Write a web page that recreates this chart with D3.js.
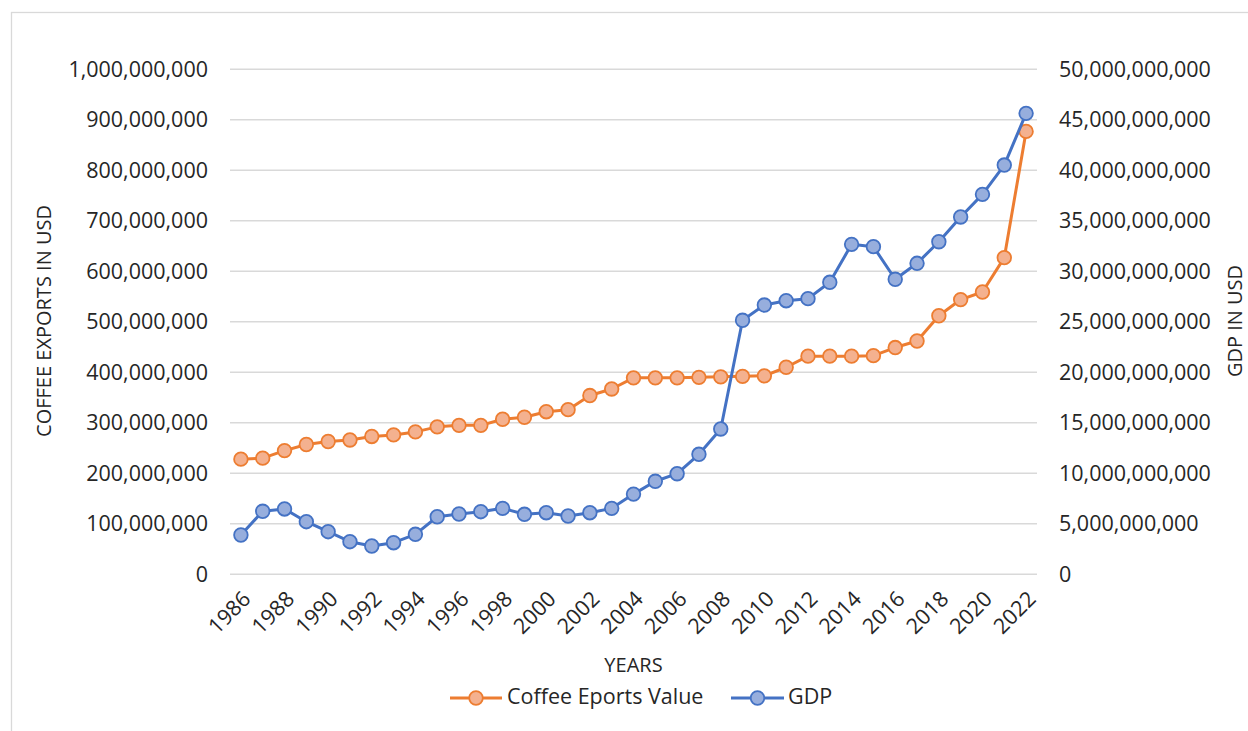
<!DOCTYPE html>
<html>
<head>
<meta charset="utf-8">
<script src="https://cdn.jsdelivr.net/npm/d3@7"></script>
<style>
  html, body { margin: 0; padding: 0; background: #ffffff; }
  svg { display: block; font-family: "Open Sans", "Liberation Sans", sans-serif; }
</style>
</head>
<body>
<svg id="chart" width="1248" height="731"></svg>
<script>
// Years on the category axis
const years = d3.range(1986, 2023);

// Coffee export value (USD), left axis
const coffeeExports = [
  228e6, 230e6, 245e6, 257e6, 263e6, 266e6, 273e6, 276e6, 282e6, 292e6,
  295e6, 295e6, 307e6, 311e6, 322e6, 326e6, 354e6, 367e6, 389e6, 389e6,
  389e6, 390e6, 391e6, 392e6, 393e6, 410e6, 432e6, 432e6, 432e6, 433e6,
  449e6, 462e6, 512e6, 544e6, 559e6, 627e6, 877e6
];

// GDP (USD), right axis
const gdp = [
  3.89e9, 6.24e9, 6.47e9, 5.21e9, 4.22e9, 3.23e9, 2.80e9, 3.13e9, 3.96e9, 5.70e9,
  5.97e9, 6.20e9, 6.53e9, 5.94e9, 6.10e9, 5.77e9, 6.10e9, 6.53e9, 7.94e9, 9.21e9,
  9.96e9, 11.88e9, 14.39e9, 25.15e9, 26.66e9, 27.09e9, 27.29e9, 28.91e9, 32.67e9, 32.44e9,
  29.21e9, 30.79e9, 32.93e9, 35.38e9, 37.62e9, 40.52e9, 45.64e9
];

// Axis tick values
const leftTicks = d3.range(0, 1e9 + 1, 1e8);
const rightTicks = d3.range(0, 5e10 + 1, 5e9);
const yearLabels = years.filter(y => y % 2 === 0);

const seriesNames = ["Coffee Eports Value", "GDP"];
const lineColors = ["#ED7D31", "#4472C4"];
const markerFills = ["#F4B18F", "#97AEDD"];

const svg = d3.select("#chart");

// Outer chart frame
svg.append("rect")
  .attr("x", 11.5).attr("y", 12.5)
  .attr("width", 1260).attr("height", 740)
  .attr("fill", "#ffffff")
  .attr("stroke", "#D9D9D9").attr("stroke-width", 1.3);

const plot = { left: 230, right: 1037, top: 69.3, bottom: 574.3 };

const x = d3.scaleBand().domain(years).range([plot.left, plot.right]);
const cx = d => x(d) + x.bandwidth() / 2;
const yL = d3.scaleLinear().domain([0, 1e9]).range([plot.bottom, plot.top]);
const yR = d3.scaleLinear().domain([0, 5e10]).range([plot.bottom, plot.top]);
const fmt = d3.format(",");

const tickFont = 21.5;
const titleFont = 20;

// Horizontal gridlines
svg.append("g")
  .selectAll("line")
  .data(leftTicks)
  .join("line")
  .attr("x1", plot.left).attr("x2", plot.right)
  .attr("y1", d => yL(d)).attr("y2", d => yL(d))
  .attr("stroke", "#D9D9D9").attr("stroke-width", 1.5);

// Left axis
const leftAxis = svg.append("g")
  .attr("transform", `translate(${plot.left - 22},0)`)
  .call(d3.axisLeft(yL).tickValues(leftTicks).tickFormat(fmt).tickSize(0).tickPadding(0));
leftAxis.select(".domain").remove();
leftAxis.selectAll("text")
  .attr("font-size", tickFont).attr("fill", "#262626")
  .attr("font-family", "'Open Sans', sans-serif");

// Right axis
const rightAxis = svg.append("g")
  .attr("transform", `translate(${plot.right + 22},0)`)
  .call(d3.axisRight(yR).tickValues(rightTicks).tickFormat(fmt).tickSize(0).tickPadding(0));
rightAxis.select(".domain").remove();
rightAxis.selectAll("text")
  .attr("font-size", tickFont).attr("fill", "#262626")
  .attr("font-family", "'Open Sans', sans-serif");

// Bottom category axis with rotated year labels
const bottomAxis = svg.append("g")
  .attr("transform", `translate(0,${plot.bottom})`)
  .call(d3.axisBottom(x).tickValues(yearLabels).tickSize(0).tickPadding(0));
bottomAxis.select(".domain").remove();
bottomAxis.selectAll("text")
  .attr("font-size", tickFont).attr("fill", "#262626")
  .attr("font-family", "'Open Sans', sans-serif")
  .attr("text-anchor", "end")
  .attr("dy", null).attr("y", 0)
  .attr("transform", "translate(7,22) rotate(-45)")
  .attr("dominant-baseline", "middle");

// Axis titles
svg.append("text")
  .attr("transform", "translate(46,321) rotate(-90)")
  .attr("text-anchor", "middle").attr("dominant-baseline", "middle")
  .attr("font-size", titleFont).attr("fill", "#262626")
  .text("COFFEE EXPORTS IN USD");

svg.append("text")
  .attr("transform", "translate(1237,321) rotate(-90)")
  .attr("text-anchor", "middle").attr("dominant-baseline", "middle")
  .attr("font-size", titleFont).attr("fill", "#262626")
  .text("GDP IN USD");

svg.append("text")
  .attr("x", (plot.left + plot.right) / 2).attr("y", 667)
  .attr("text-anchor", "middle").attr("dominant-baseline", "middle")
  .attr("font-size", titleFont).attr("fill", "#262626")
  .text("YEARS");

// Series lines and markers
const series = [
  { values: coffeeExports, y: yL },
  { values: gdp, y: yR }
];

series.forEach((s, i) => {
  const pts = years.map((yr, j) => [cx(yr), s.y(s.values[j])]);
  svg.append("path")
    .attr("d", d3.line()(pts))
    .attr("fill", "none")
    .attr("stroke", lineColors[i]).attr("stroke-width", 3)
    .attr("stroke-linejoin", "round");
  svg.append("g")
    .selectAll("circle")
    .data(pts)
    .join("circle")
    .attr("cx", d => d[0]).attr("cy", d => d[1])
    .attr("r", 6.8)
    .attr("fill", markerFills[i])
    .attr("stroke", lineColors[i]).attr("stroke-width", 1.8);
});

// Legend
const legendItems = [
  { x0: 450, x1: 502, tx: 507 },
  { x0: 731, x1: 784, tx: 788 }
];
const legend = svg.append("g");
legendItems.forEach((it, i) => {
  const ly = 698;
  legend.append("line")
    .attr("x1", it.x0).attr("x2", it.x1).attr("y1", ly).attr("y2", ly)
    .attr("stroke", lineColors[i]).attr("stroke-width", 3);
  legend.append("circle")
    .attr("cx", (it.x0 + it.x1) / 2).attr("cy", ly).attr("r", 6.8)
    .attr("fill", markerFills[i])
    .attr("stroke", lineColors[i]).attr("stroke-width", 1.8);
  legend.append("text")
    .attr("x", it.tx).attr("y", ly)
    .attr("dominant-baseline", "middle")
    .attr("font-size", tickFont).attr("fill", "#262626")
    .text(seriesNames[i]);
});
</script>
</body>
</html>
